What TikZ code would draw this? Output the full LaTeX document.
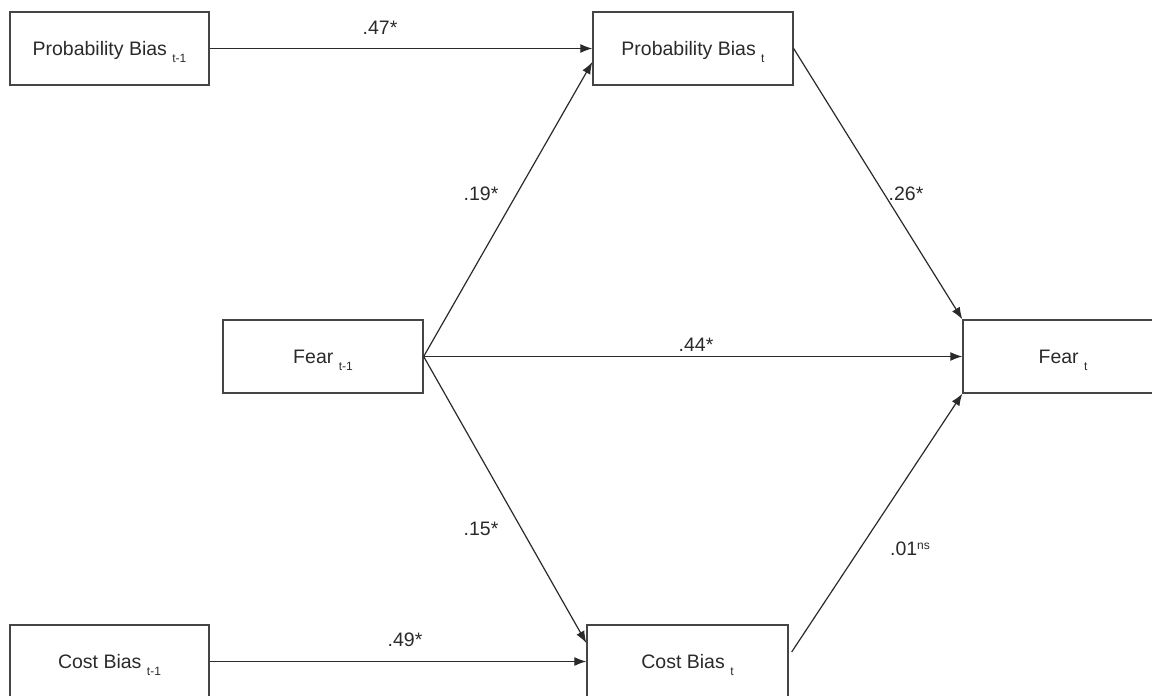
\documentclass[tikz,border=0pt]{standalone}
\usepackage{fontspec}
\setmainfont{Liberation Sans}
\usetikzlibrary{positioning,calc,arrows.meta}
\definecolor{boxgray}{HTML}{454545}
\definecolor{inkgray}{HTML}{2A2A2A}
\newcommand{\idx}[1]{\raisebox{-7pt}{\fontsize{12}{12}\selectfont #1}}
\tikzset{
  var/.style={draw=boxgray, line width=1.3pt, minimum height=73pt, inner sep=0pt,
    text height=14pt, text depth=0pt, text=inkgray, font=\fontsize{19.5}{20}\selectfont},
  link/.style={draw=inkgray, line width=1.2pt, -{Latex[length=12pt,width=9pt]}},
  coef/.style={inner sep=0pt, text=inkgray, font=\fontsize{19.5}{20}\selectfont}
}
\begin{document}
\begin{tikzpicture}[x=1pt,y=-1pt]
		\useasboundingbox (0,0) rectangle (1152,696);
		\clip (0,0) rectangle (1152,696);
		% variables
		\node[var, minimum width=199pt] (pbprev) at (109.5,48.5) {Probability Bias \idx{t-1}};
		\node[var, minimum width=200pt] (pbnow) at (693,48.5) {Probability Bias \idx{t}};
		\node[var, minimum width=200pt] (fearprev) at (323,356.5) {Fear \idx{t-1}};
		\node[var, minimum width=200pt] (fearnow) at (1063,356.5) {Fear \idx{t}};
		\node[var, minimum width=199pt] (cbprev) at (109.5,661.5) {Cost Bias \idx{t-1}};
		\node[var, minimum width=201pt] (cbnow) at (687.5,661.5) {Cost Bias \idx{t}};
		% paths
		\draw[link] (pbprev) -- (pbnow);
		\draw[link] (fearprev.east) -- ([yshift=-13.5pt]pbnow.west);
		\draw[link] (pbnow.east) -- (fearnow.north west);
		\draw[link] (fearprev) -- (fearnow);
		\draw[link] (fearprev.east) -- ([yshift=18.5pt]cbnow.west);
		\draw[link] (cbprev) -- (cbnow);
		\draw[link] ([xshift=3pt,yshift=9.5pt]cbnow.east) -- (fearnow.south west);
		% coefficients
		\node[coef] (c47) at (380,28) {.47*};
		\node[coef] (c19) at (481,194) {.19*};
		\node[coef] (c26) at (906,194) {.26*};
		\node[coef] (c44) at (696,345) {.44*};
		\node[coef] (c15) at (481,529) {.15*};
		\node[coef] (c01) at (910,549) {.01\raisebox{6pt}{\fontsize{12}{12}\selectfont ns}};
		\node[coef] (c49) at (405,640) {.49*};
	\end{tikzpicture}
\end{document}
